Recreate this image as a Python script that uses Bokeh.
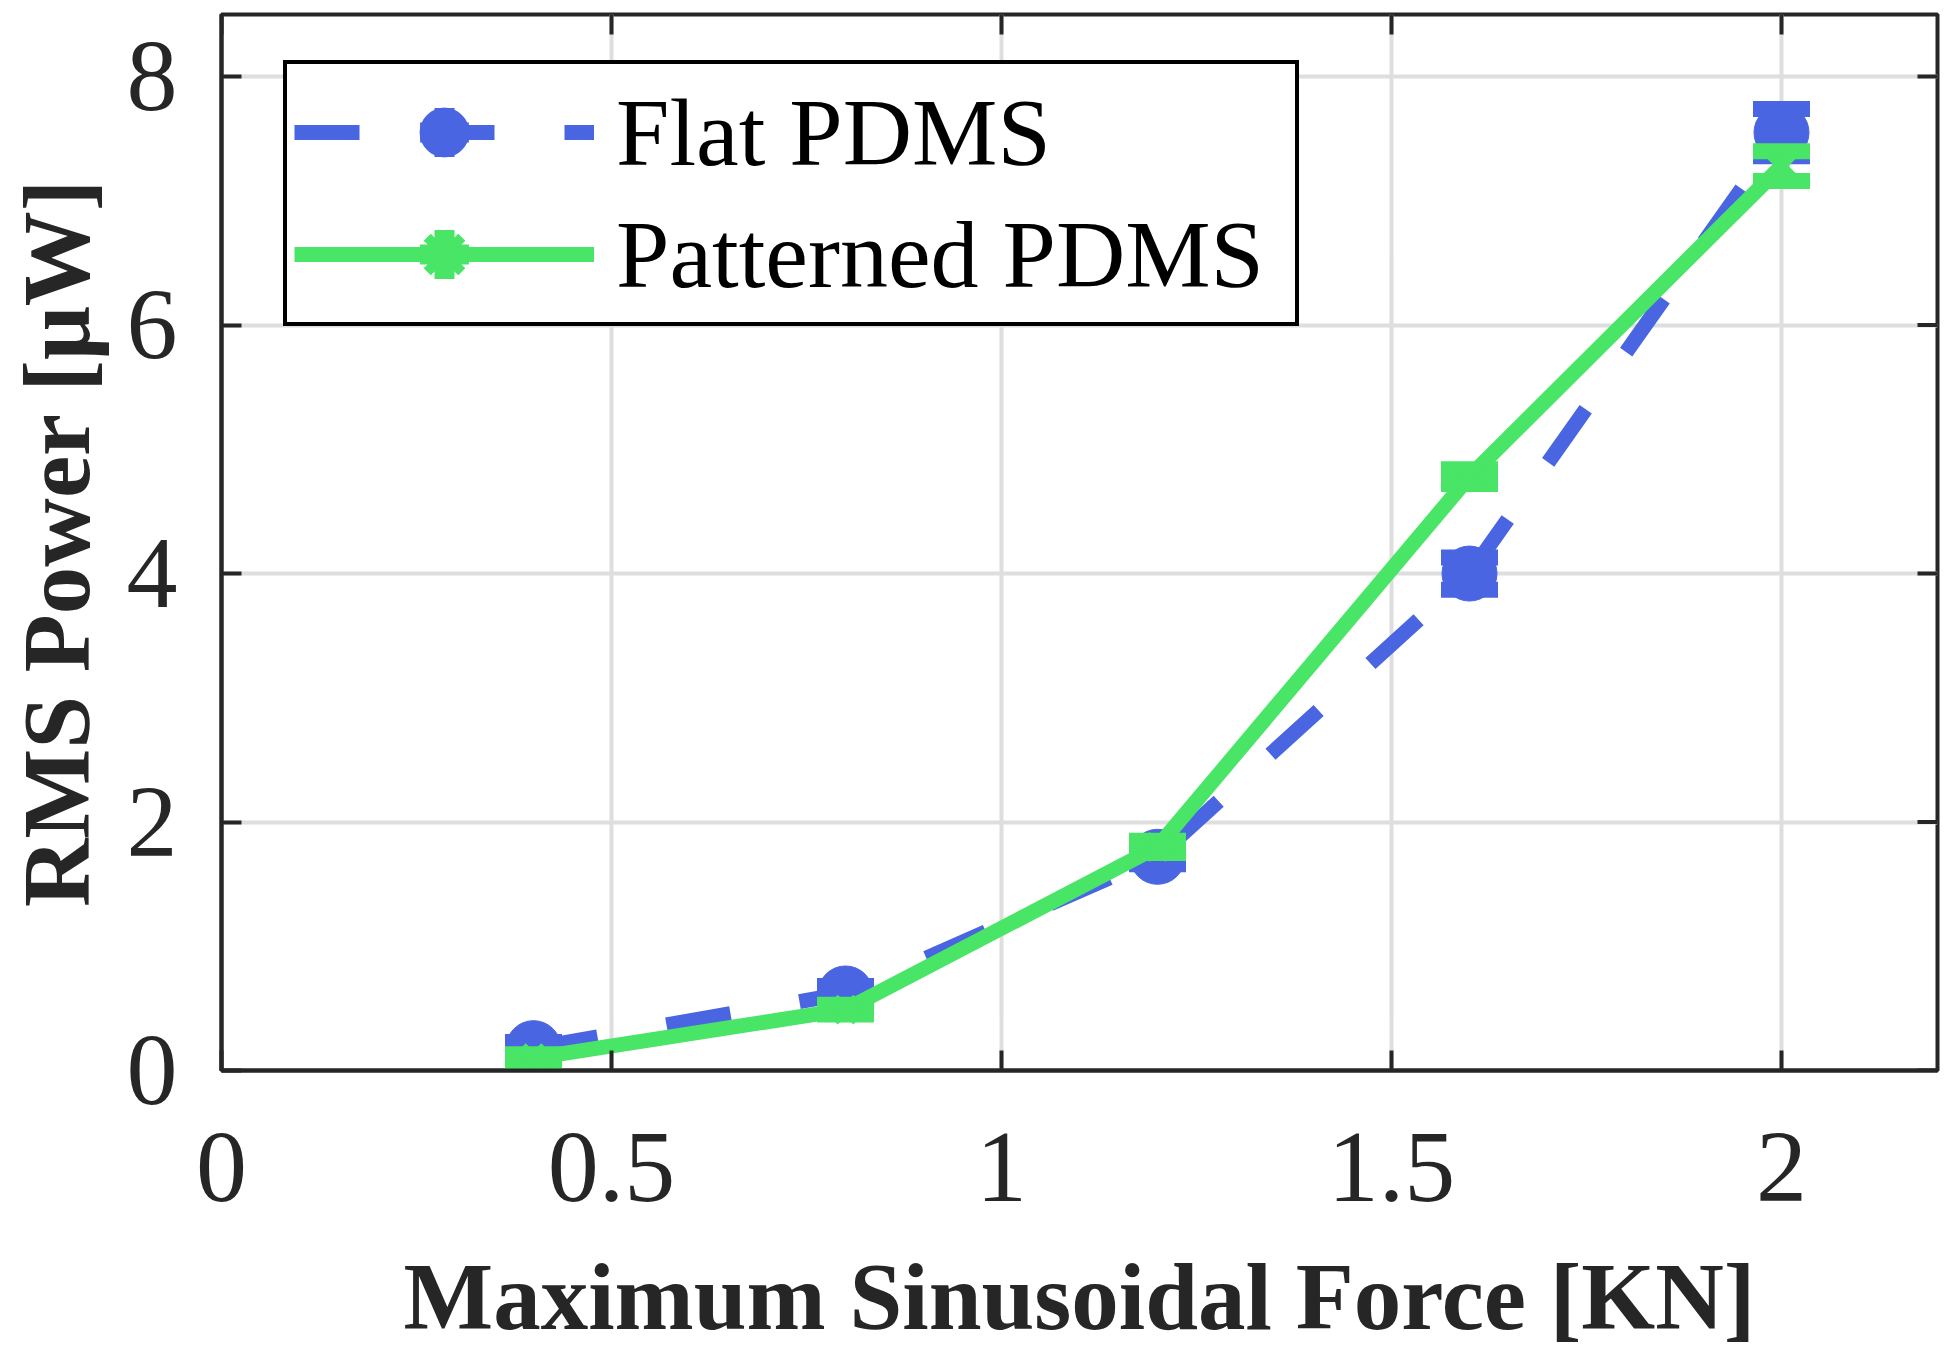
import math
from bokeh.plotting import figure
from bokeh.models import (ColumnDataSource, Legend, LegendItem, FixedTicker,
                          Range1d, CustomJSTickFormatter)
from bokeh.embed import file_html
from bokeh.resources import INLINE

# ---- data ----
force = [0.4, 0.8, 1.2, 1.6, 2.0]
flat_power = [0.18, 0.62, 1.72, 4.00, 7.55]
flat_err = [0.05, 0.06, 0.06, 0.13, 0.19]
patterned_power = [0.10, 0.49, 1.80, 4.78, 7.28]
patterned_err = [0.03, 0.04, 0.05, 0.06, 0.12]
x_ticks = [0, 0.5, 1, 1.5, 2]
y_ticks = [0, 2, 4, 6, 8]
x_limits = [0, 2.2]
y_limits = [0, 8.5]
series_names = ["Flat PDMS", "Patterned PDMS"]
x_label = "Maximum Sinusoidal Force [KN]"
y_label = "RMS Power [\u03bcW]"

BLUE = "#4A65E2"
GREEN = "#48E566"
AX = "#262626"
FONT = "Liberation Serif"

def src(y, e):
    return ColumnDataSource(dict(x=force, y=y,
                                 lo=[a - b for a, b in zip(y, e)],
                                 hi=[a + b for a, b in zip(y, e)]))

flat_src = src(flat_power, flat_err)
pat_src = src(patterned_power, patterned_err)

p = figure(frame_width=1716, frame_height=1056,
           x_range=Range1d(*x_limits), y_range=Range1d(*y_limits),
           output_backend="svg", toolbar_location=None,
           min_border_left=212, min_border_right=6, min_border_top=14, min_border_bottom=0,
           background_fill_color="white", border_fill_color="white")
p.outline_line_color = AX
p.outline_line_width = 4
p.outline_line_alpha = 1.0

fmt = CustomJSTickFormatter(code="return String(tick)")

for ax, ticks in ((p.xaxis[0], x_ticks), (p.yaxis[0], y_ticks)):
    ax.ticker = FixedTicker(ticks=ticks)
    ax.formatter = fmt
    ax.major_tick_in = 20
    ax.major_tick_out = 0
    ax.minor_tick_line_color = None
    ax.axis_line_width = 4
    ax.axis_line_color = AX
    ax.major_tick_line_width = 4
    ax.major_tick_line_color = AX
    ax.major_label_text_font = FONT
    ax.major_label_text_font_size = "102px"
    ax.major_label_text_color = AX
    ax.axis_label_text_font = FONT
    ax.axis_label_text_font_size = "95px"
    ax.axis_label_text_font_style = "bold"
    ax.axis_label_text_color = AX

p.xaxis[0].axis_label = x_label
p.yaxis[0].axis_label = y_label
p.xaxis[0].major_label_standoff = 63
p.xaxis[0].axis_label_standoff = 40
p.yaxis[0].major_label_standoff = 44
p.yaxis[0].axis_label_standoff = 14

p.xgrid.ticker = FixedTicker(ticks=x_ticks)
p.ygrid.ticker = FixedTicker(ticks=y_ticks)
for g in (p.xgrid, p.ygrid):
    g.grid_line_color = "#DEDEDE"
    g.grid_line_width = 4

# inward ticks on the top and right edges of the box (half of each dash is clipped by the frame)
p.scatter(x=[x_limits[1]] * len(y_ticks), y=y_ticks, marker="dash", size=40,
          line_color=AX, line_width=4)
p.scatter(x=x_ticks, y=[y_limits[1]] * len(x_ticks), marker="dash", angle=math.pi / 2,
          size=40, line_color=AX, line_width=4)

def series(source, color, dash, marker, msize, mlw):
    line = p.line("x", "y", source=source, line_color=color, line_width=15, line_dash=dash)
    p.segment(x0="x", y0="lo", x1="x", y1="hi", source=source, line_color=color, line_width=16)
    p.scatter("x", "lo", source=source, marker="dash", size=57, line_color=color, line_width=16)
    p.scatter("x", "hi", source=source, marker="dash", size=57, line_color=color, line_width=16)
    # zero-size in the plot; the legend draws it at its own size as the error-bar stem
    stem = p.scatter("x", "y", source=source, marker="cross", size=0,
                     line_color=color, line_width=20)
    if marker == "circle":
        m = p.scatter("x", "y", source=source, marker="circle", size=msize,
                      fill_color=color, line_color=color, line_width=1)
    else:
        m = p.scatter("x", "y", source=source, marker=marker, size=msize,
                      line_color=color, line_width=mlw)
    return [line, stem, m]

r_flat = series(flat_src, BLUE, "65 70", "circle", 55, 1)
r_pat = series(pat_src, GREEN, "solid", "x", 32, 10)

legend = Legend(items=[LegendItem(label=series_names[0], renderers=r_flat),
                       LegendItem(label=series_names[1], renderers=r_pat)],
                location=(62, 744), orientation="vertical",
                glyph_width=300, glyph_height=122, label_height=122,
                label_width=672, label_standoff=22, spacing=-10, padding=7, margin=0,
                label_text_font=FONT, label_text_font_size="96px", label_text_color="black",
                border_line_color="black", border_line_width=4, border_line_alpha=1.0,
                background_fill_color="white", background_fill_alpha=1.0)
p.add_layout(legend, "center")

open("out.html", "w").write(file_html(p, INLINE))
